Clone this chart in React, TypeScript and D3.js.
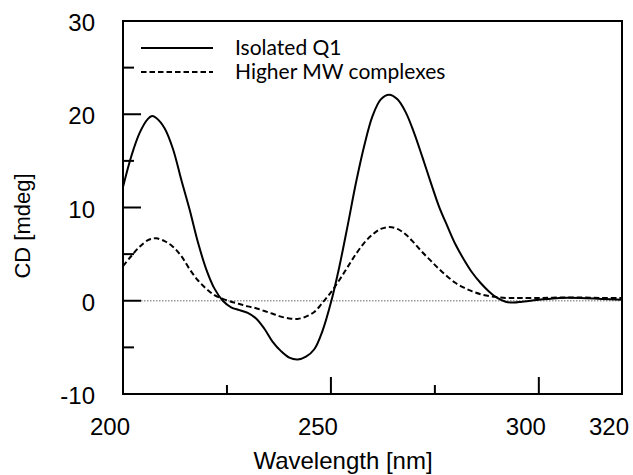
import React from "react";
import * as d3 from "d3";

// wavelength grid (nm) shared by both spectra
const wavelengths = [
  200, 202, 204, 206, 207, 208, 210, 212, 214, 216, 218, 220, 222, 224, 226, 228, 230, 232, 234, 236,
  238, 240, 242, 244, 246, 248, 250, 252, 254, 256, 258, 260, 262, 264, 266, 268, 270, 272, 274, 276,
  278, 280, 282, 284, 286, 288, 290, 292, 294, 296, 300, 305, 310, 315, 320,
];

// CD values (mdeg)
const isolatedQ1 = [
  12.2, 15.5, 18.0, 19.5, 19.8, 19.6, 18.5, 16.3, 13.0, 9.8, 6.3, 3.4, 1.3, 0.0, -0.7, -1.0, -1.3, -1.9, -3.0, -4.4,
  -5.4, -6.1, -6.3, -6.0, -5.2, -3.2, -0.2, 3.6, 8.0, 12.6, 16.6, 19.8, 21.6, 22.1, 21.6, 20.2, 18.0, 15.4, 12.7, 10.1,
  8.0, 6.0, 4.4, 3.0, 1.9, 1.0, 0.3, -0.1, -0.2, -0.1, 0.1, 0.3, 0.3, 0.2, 0.1,
];
const higherMW = [
  3.7, 4.8, 5.8, 6.5, 6.65, 6.7, 6.4, 5.8, 4.8, 3.4, 2.2, 1.3, 0.6, 0.2, -0.1, -0.35, -0.6, -0.8, -1.1, -1.4,
  -1.7, -1.9, -1.95, -1.7, -1.2, -0.2, 0.9, 2.2, 3.6, 5.0, 6.2, 7.1, 7.7, 7.9, 7.7, 7.1, 6.2, 5.2, 4.3, 3.4,
  2.6, 1.9, 1.4, 1.0, 0.7, 0.5, 0.4, 0.3, 0.3, 0.3, 0.3, 0.35, 0.35, 0.3, 0.3,
];

const xMajor = [200, 250, 300];
const xMinor = [225, 275];
const xLabels = [200, 250, 300, 320];
const yMajor = [30, 20, 10, 0, -10];
const yMinor = [25, 15, 5, -5];

const legend = [
  { name: "Isolated Q1", dash: "none" },
  { name: "Higher MW complexes", dash: "5.5,3" },
];

const W = 633;
const H = 475;
const left = 123;
const right = 622;
const top = 21;
const bottom = 394;

export default function App() {
  const x = d3.scaleLinear().domain([200, 320]).range([left, right]);
  const y = d3.scaleLinear().domain([-10, 30]).range([bottom, top]);

  const line = (vals: number[]) =>
    d3
      .line<number>()
      .x((_, i) => x(wavelengths[i]))
      .y((d) => y(d))
      .curve(d3.curveCatmullRom.alpha(0.5))(vals) || "";

  const axisFont = "'Liberation Sans', Arial, sans-serif";
  const legendFont = "Lato, 'Open Sans', sans-serif";

  return (
    <svg width={W} height={H} style={{ position: "absolute", left: 0, top: 0, background: "#fff" }}>
      <defs>
        <clipPath id="plot">
          <rect x={left} y={top} width={right - left} height={bottom - top} />
        </clipPath>
      </defs>

      {/* zero line */}
      <line x1={left + 18} x2={right} y1={y(0)} y2={y(0)} stroke="#999" strokeWidth={1.5} strokeDasharray="1.5,1.5" />

      <g clipPath="url(#plot)" fill="none" stroke="#000">
        <path d={line(isolatedQ1)} strokeWidth={2} />
        <path d={line(higherMW)} strokeWidth={2} strokeDasharray="5.5,3" />
      </g>

      {/* frame */}
      <rect x={left} y={top} width={right - left} height={bottom - top} fill="none" stroke="#000" strokeWidth={2} />

      {/* ticks */}
      <g stroke="#000" strokeWidth={2}>
        {xMajor.map((t) => (
          <line key={"xM" + t} x1={x(t)} x2={x(t)} y1={bottom} y2={bottom - 17} />
        ))}
        {xMinor.map((t) => (
          <line key={"xm" + t} x1={x(t)} x2={x(t)} y1={bottom} y2={bottom - 9} />
        ))}
        {yMajor.map((t) => (
          <line key={"yM" + t} x1={left} x2={left + 18} y1={y(t)} y2={y(t)} />
        ))}
        {yMinor.map((t) => (
          <line key={"ym" + t} x1={left} x2={left + 11} y1={y(t)} y2={y(t)} />
        ))}
      </g>

      {/* tick labels */}
      <g fontFamily={axisFont} fontSize={24} fill="#000">
        {xLabels.map((t) => (
          <text key={"xl" + t} x={x(t) - 13} y={435} textAnchor="middle">
            {t}
          </text>
        ))}
        {yMajor.map((t) => (
          <text key={"yl" + t} x={95} y={y(t) + 10} textAnchor="end">
            {t}
          </text>
        ))}
      </g>

      {/* axis titles */}
      <text x={343} y={469} textAnchor="middle" fontFamily={axisFont} fontSize={24}>
        Wavelength [nm]
      </text>
      <text
        transform="translate(30,226) rotate(-90)"
        textAnchor="middle"
        fontFamily={axisFont}
        fontSize={22}
      >
        CD [mdeg]
      </text>

      {/* legend */}
      {legend.map((s, i) => (
        <g key={s.name} transform={`translate(0,${48 + i * 24})`}>
          <line x1={141} x2={213} y1={0} y2={0} stroke="#000" strokeWidth={2} strokeDasharray={s.dash} />
          <text x={235} y={7} fontFamily={legendFont} fontSize={21}>
            {s.name}
          </text>
        </g>
      ))}
    </svg>
  );
}
